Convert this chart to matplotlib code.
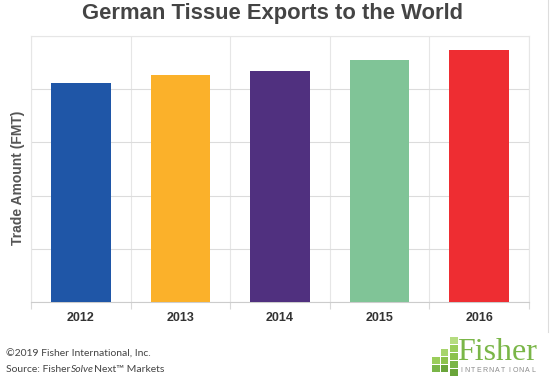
import matplotlib.pyplot as plt
from matplotlib.patches import Rectangle

years = ["2012", "2013", "2014", "2015", "2016"]
amounts = [4.12, 4.27, 4.35, 4.54, 4.74]
colors = ["#1f56a7", "#fbb12a", "#50307f", "#80c497", "#ee2d32"]

W, H = 550, 380
plt.rcParams["font.family"] = "Liberation Sans"
fig = plt.figure(figsize=(5.5, 3.8), dpi=100)
ax = fig.add_axes([31 / W, 1 - 302 / H, 498 / W, 266 / H])

x = range(len(years))
ax.bar(x, amounts, width=0.6, color=colors, zorder=3)
ax.set_xlim(-0.5, len(years) - 0.5)
ax.set_ylim(0, 5)
ax.set_yticks([0, 1, 2, 3, 4, 5])
ax.set_yticklabels([])
ax.tick_params(axis="y", length=0)
ax.set_xticks(list(x))
ax.set_xticklabels(years, fontsize=9, fontweight="bold", color="#333333")
ax.tick_params(axis="x", which="major", length=0, pad=7)
ax.set_xticks([i - 0.5 for i in range(len(years) + 1)], minor=True)
ax.tick_params(axis="x", which="minor", length=5, color="#d9d9d9", width=0.8)
ax.grid(axis="y", color="#dcdcdc", lw=0.8, zorder=0)
ax.grid(axis="x", which="minor", color="#e6e6e6", lw=0.8, zorder=0)
for s in ax.spines.values():
    s.set_color("#e6e6e6")
    s.set_linewidth(0.8)
ax.spines["bottom"].set_color("#cccccc")

fig.text(18 / W, 1 - 178 / H, "Trade Amount (FMT)", rotation=90, ha="center", va="center",
         fontsize=10, fontweight="bold", color="#555555")
fig.text(272 / W, 1 - 13 / H, "German Tissue Exports to the World", ha="center", va="center",
         fontsize=15.8, fontweight="bold", color="#444444")

# footer
fig.text(6 / W, 1 - 354 / H, "\u00a92019 Fisher International, Inc.", fontsize=7.5, family="Lato",
         color="#444444", va="center")
fig.canvas.draw()
r = fig.canvas.get_renderer()
parts = [("Source: Fisher", "normal"), ("Solve", "italic"), ("Next\u2122 Markets", "normal")]
px = 6
for txt, st in parts:
    t = fig.text(px / W, 1 - 369 / H, txt, fontsize=7.5, family="Lato", color="#444444",
                 va="center", style=st)
    px += t.get_window_extent(r).width + 0.5

# logo
fig.text(457 / W, 1 - 360 / H, "Fisher", fontsize=23, family="Liberation Serif", color="#7ab648",
         va="baseline")
for i, ch in enumerate("INTERNATIONAL"):
    fig.text((461 + i * 6.0) / W, 1 - 370 / H, ch, fontsize=5, color="#8a8a8a", va="center", ha="center")
sq = [(432, 357, "#9acd5a"), (432, 365, "#7ab648"),
      (441, 349, "#a7d46c"), (441, 357, "#8cc24c"), (441, 365, "#6aa53a"),
      (450, 337, "#b5dc80"), (450, 345, "#9acd5a"), (450, 353, "#8cc24c"), (450, 361, "#7ab648"),
      (450, 369, "#6aa53a")]
for sx, sy, c in sq:
    fig.add_artist(Rectangle((sx / W, 1 - (sy + 7) / H), 7.5 / W, 7 / H, transform=fig.transFigure,
                             color=c, lw=0))
fig.add_artist(plt.Line2D([548 / W, 548 / W], [1 - 332 / H, 1], transform=fig.transFigure,
                          color="#dddddd", lw=0.8))

fig.savefig("out.png", dpi=100)
